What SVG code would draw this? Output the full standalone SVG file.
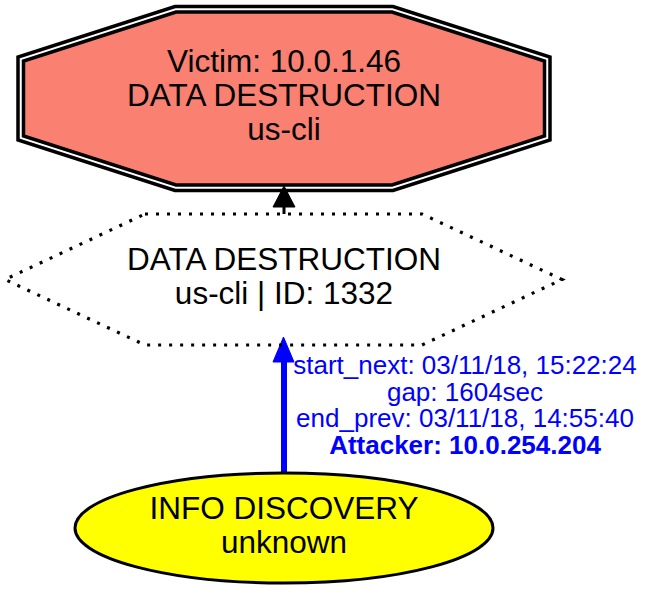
<svg xmlns="http://www.w3.org/2000/svg" width="647" height="591" viewBox="0 0 647 591">
<style>
text{font-family:"Liberation Sans",Arial,sans-serif;text-anchor:middle}
.n{font-size:31.5px;fill:#000}
.l{font-size:26px;fill:#0000ff}
.b{font-weight:bold}
</style>
<rect width="647" height="591" fill="#fff"/>
<g id="edges">
<g id="e1">
<line x1="284" y1="214" x2="284" y2="205" stroke="#000" stroke-width="3"/>
<polygon points="273,207 295,207 284,186" fill="#000" stroke="#000" stroke-width="1"/>
</g>
<g id="e2">
<line x1="284" y1="473" x2="284" y2="360" stroke="#0000ff" stroke-width="6"/>
<polygon points="273,362 294,362 283.5,337" fill="#0000ff" stroke="#0000ff" stroke-width="1"/>
<text class="l" x="465" y="374">start_next: 03/11/18, 15:22:24</text>
<text class="l" x="465" y="401">gap: 1604sec</text>
<text class="l" x="465" y="427">end_prev: 03/11/18, 14:55:40</text>
<text class="l b" x="465" y="454">Attacker: 10.0.254.204</text>
</g>
</g>
<g id="victim">
<polygon points="176,12 392,12 544.5,61 544.5,136 392,185 176,185 23.5,136 23.5,61" fill="#fa8072" stroke="#000" stroke-width="3.5"/>
<polygon points="175,6.5 393,6.5 550,57 550,140 393,190.5 175,190.5 18,140 18,57" fill="none" stroke="#000" stroke-width="3.5"/>
<text class="n" x="284" y="72">Victim: 10.0.1.46</text>
<text class="n" x="284" y="106">DATA DESTRUCTION</text>
<text class="n" x="284" y="140">us-cli</text>
</g>
<g id="dd1332">
<polygon points="145,214 422,214 562,279.5 422,345 145,345 5,279.5" fill="none" stroke="#000" stroke-width="3.2" stroke-dasharray="3,8"/>
<text class="n" x="284" y="270">DATA DESTRUCTION</text>
<text class="n" x="284" y="304">us-cli | ID: 1332</text>
</g>
<g id="infodisc">
<ellipse cx="284" cy="528" rx="209" ry="55" fill="#ffff00" stroke="#000" stroke-width="3"/>
<text class="n" x="284" y="519">INFO DISCOVERY</text>
<text class="n" x="284" y="553">unknown</text>
</g>
</svg>
